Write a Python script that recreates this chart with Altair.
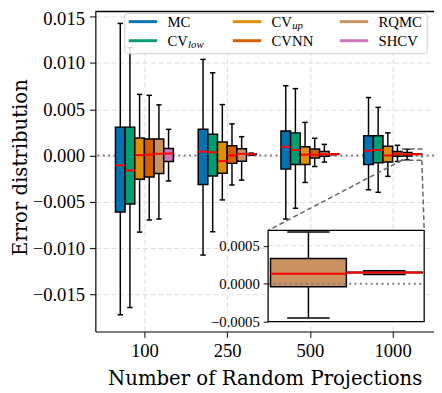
import json
import pandas as pd
import altair as alt

# ---------------- data ----------------
METHODS = ["MC", "CV_low", "CV_up", "CVNN", "RQMC", "SHCV"]
COLORS = ["#0173b2", "#029e73", "#de8f05", "#d55e00", "#ca9161", "#cc78bc"]
PROJECTIONS = ["100", "250", "500", "1000"]

# box statistics per method, one value per number of random projections
WHISKER_LOW = {
    "MC":     [-0.01716, -0.01072, -0.00684, -0.00369],
    "CV_low": [-0.01638, -0.00821, -0.00568, -0.00396],
    "CV_up":  [-0.00825, -0.00478, -0.00290, -0.00224],
    "CVNN":   [-0.00694, -0.00317, -0.00118, -0.00064],
    "RQMC":   [-0.00684, -0.00265, -0.00070, -0.00045],
    "SHCV":   [-0.00273, 0.00005, 0.00010, 0.00012],
}
Q1 = {
    "MC":     [-0.00609, -0.00311, -0.00146, -0.00095],
    "CV_low": [-0.00523, -0.00221, -0.00095, -0.00077],
    "CV_up":  [-0.00255, -0.00190, -0.00095, -0.00070],
    "CVNN":   [-0.00230, -0.00084, -0.00026, -0.00008],
    "RQMC":   [-0.00194, -0.00060, -0.00008, -0.00004],
    "SHCV":   [-0.00064, 0.00010, 0.00013, 0.000145],
}
MEDIAN = {
    "MC":     [-0.00105, 0.00043, 0.00095, 0.00053],
    "CV_low": [-0.00160, 0.00036, 0.00060, 0.00060],
    "CV_up":  [0.00005, -0.00060, 0.00010, 0.00002],
    "CVNN":   [0.00010, 0.00002, 0.00010, 0.00020],
    "RQMC":   [0.00020, 0.00019, 0.00015, 0.00013],
    "SHCV":   [0.00022, 0.00015, 0.00015, 0.000147],
}
Q3 = {
    "MC":     [0.00307, 0.00283, 0.00266, 0.00214],
    "CV_low": [0.00307, 0.00231, 0.00245, 0.00214],
    "CV_up":  [0.00190, 0.00146, 0.00095, 0.00101],
    "CVNN":   [0.00180, 0.00105, 0.00070, 0.00043],
    "RQMC":   [0.00180, 0.00074, 0.00043, 0.00033],
    "SHCV":   [0.00077, 0.00020, 0.00017, 0.00015],
}
WHISKER_HIGH = {
    "MC":     [0.01425, 0.01037, 0.00753, 0.00626],
    "CV_low": [0.01165, 0.00893, 0.00722, 0.00520],
    "CV_up":  [0.00660, 0.00550, 0.00358, 0.00245],
    "CVNN":   [0.00650, 0.00342, 0.00187, 0.00111],
    "RQMC":   [0.00547, 0.00204, 0.00121, 0.00068],
    "SHCV":   [0.00283, 0.00027, 0.00020, 0.00017],
}

# ---------------- layout ----------------
W, H = 345, 326
XDOM = [-0.593, 3.5]
YDOM = [-0.01897, 0.01553]
BOX_W = 0.7 / len(METHODS)
CAP_HALF = BOX_W * 0.28

# zoomed region (data units) and where the inset sits (pixels inside the plot)
IX = [3.113, 3.353]
IY = [-0.0005, 0.0007]
INSET_RX = [176, 335]
INSET_RY = [316, 223]

SERIF = "Liberation Serif, Tinos, 'Times New Roman', Times, serif"
TITLE_FONT = "DejaVu Serif"

rows = []
for g, proj in enumerate(PROJECTIONS):
    for m, name in enumerate(METHODS):
        pos = g + (m - (len(METHODS) - 1) / 2) * BOX_W
        rows.append(dict(
            proj=proj, g=g, method=name, pos=pos,
            x0=pos - BOX_W / 2, x1=pos + BOX_W / 2,
            c0=pos - CAP_HALF, c1=pos + CAP_HALF,
            lo=WHISKER_LOW[name][g], q1=Q1[name][g], med=MEDIAN[name][g],
            q3=Q3[name][g], hi=WHISKER_HIGH[name][g],
        ))
df = pd.DataFrame(rows)

color = alt.Color("method:N", scale=alt.Scale(domain=METHODS, range=COLORS), legend=None)

# ---------------- main panel ----------------
xs = alt.Scale(domain=XDOM, nice=False, zero=False)
ys = alt.Scale(domain=YDOM, nice=False, zero=False)

grid_kw = dict(grid=True, gridDash=[5, 3], gridColor="#dcdcdc", gridWidth=1)
x_axis = alt.Axis(
    values=list(range(len(PROJECTIONS))),
    labelExpr=json.dumps(PROJECTIONS) + "[datum.value]",
    title="Number of Random Projections",
    titleFont=TITLE_FONT, titleFontSize=20, titleFontWeight="normal", titleColor="black",
    titleY=54, titleBaseline="alphabetic",
    labelFont=SERIF, labelFontSize=19, labelColor="black", labelPadding=4,
    tickSize=6, tickColor="black", domainColor="black", domainWidth=1.2,
    labelAngle=0, **grid_kw,
)
y_axis = alt.Axis(
    values=[-0.015, -0.01, -0.005, 0.0, 0.005, 0.01, 0.015],
    format=".3f",
    title="Error distribution",
    titleFont=TITLE_FONT, titleFontSize=20, titleFontWeight="normal", titleColor="black",
    titleX=-76, titleY=158.5, titleAngle=-90, titleBaseline="middle", titleAlign="center",
    labelFont=SERIF, labelFontSize=19, labelColor="black", labelPadding=5,
    labelFlush=6, labelFlushOffset=7,
    tickSize=6, tickColor="black", domainColor="black", domainWidth=1.2, **grid_kw,
)


def MX(field, **kw):
    return alt.X(field, scale=xs, **kw)


def MY(field, **kw):
    return alt.Y(field, scale=ys, **kw)


zero_df = pd.DataFrame({"v": [0.0]})
top_df = pd.DataFrame({"v": [YDOM[1]]})

whiskers = alt.Chart(df).mark_rule(color="black", strokeWidth=1.5).encode(
    x=MX("pos:Q", axis=x_axis),
    y=MY("lo:Q", axis=y_axis),
    y2="hi:Q",
)
zero_line = alt.Chart(zero_df).mark_rule(
    color="#7f7f7f", strokeWidth=2, strokeDash=[2, 3.5]
).encode(y=MY("v:Q"))
cap_lo = alt.Chart(df).mark_rule(color="black", strokeWidth=1.5).encode(
    x=MX("c0:Q"), x2="c1:Q", y=MY("lo:Q"),
)
cap_hi = alt.Chart(df).mark_rule(color="black", strokeWidth=1.5).encode(
    x=MX("c0:Q"), x2="c1:Q", y=MY("hi:Q"),
)
boxes = alt.Chart(df).mark_rect(stroke="black", strokeWidth=1.5).encode(
    x=MX("x0:Q"), x2="x1:Q", y=MY("q1:Q"), y2="q3:Q", color=color,
)
medians = alt.Chart(df).mark_rule(color="#ff0000", strokeWidth=2).encode(
    x=MX("x0:Q"), x2="x1:Q", y=MY("med:Q"),
)

zoom_df = pd.DataFrame({"x0": [IX[0]], "x1": [IX[1]], "y0": [IY[0]], "y1": [IY[1]]})
zoom_rect = alt.Chart(zoom_df).mark_rect(
    fillOpacity=0, stroke="#666666", strokeWidth=1.5, strokeDash=[5, 3]
).encode(x=MX("x0:Q"), x2="x1:Q", y=MY("y0:Q"), y2="y1:Q")


def px_to_main_x(px):
    return XDOM[0] + px / W * (XDOM[1] - XDOM[0])


def px_to_main_y(py):
    return YDOM[1] - py / H * (YDOM[1] - YDOM[0])


conn_df = pd.DataFrame({
    "xa": [IX[0], IX[1]],
    "ya": [IY[0], IY[0]],
    "xb": [px_to_main_x(INSET_RX[0]), px_to_main_x(INSET_RX[1])],
    "yb": [px_to_main_y(INSET_RY[1]), px_to_main_y(INSET_RY[1])],
})
connectors = alt.Chart(conn_df).mark_rule(
    color="#666666", strokeWidth=1.5, strokeDash=[5, 3]
).encode(x=MX("xa:Q"), x2="xb:Q", y=MY("ya:Q"), y2="yb:Q")
top_border = alt.Chart(top_df).mark_rule(color="black", strokeWidth=1.5).encode(y=MY("v:Q"))

main = alt.layer(whiskers, zero_line, cap_lo, cap_hi, boxes, medians,
                 zoom_rect, connectors, top_border)

# ---------------- inset ----------------
ixs = alt.Scale(domain=IX, range=INSET_RX, nice=False, zero=False)
iys = alt.Scale(domain=IY, range=INSET_RY, nice=False, zero=False)
inset_axis = alt.Axis(
    orient="left", offset=-INSET_RX[0], values=[-0.0005, 0.0, 0.0005], format=".4f",
    grid=False, domain=False, title=None, tickSize=5, tickColor="black",
    labelFont=SERIF, labelFontSize=15, labelColor="black", labelPadding=4,
)


def IXE(field):
    return alt.X(field, scale=ixs, axis=None)


def IYE(field, **kw):
    return alt.Y(field, scale=iys, **kw)


ins_df = df[(df["g"] == len(PROJECTIONS) - 1) & (df["method"].isin(["RQMC", "SHCV"]))]

ins_bg = alt.Chart(zoom_df).mark_rect(fill="white").encode(
    x=IXE("x0:Q"), x2="x1:Q", y=IYE("y0:Q", axis=inset_axis), y2="y1:Q",
)
ins_grid_df = pd.DataFrame({"v": [0.0005], "x0": [IX[0]], "x1": [IX[1]]})
ins_grid = alt.Chart(ins_grid_df).mark_rule(
    color="#dcdcdc", strokeWidth=1, strokeDash=[5, 3]
).encode(x=IXE("x0:Q"), x2="x1:Q", y=IYE("v:Q"))
ins_zero_df = pd.DataFrame({"v": [0.0], "x0": [IX[0]], "x1": [IX[1]]})
ins_zero = alt.Chart(ins_zero_df).mark_rule(
    color="#7f7f7f", strokeWidth=2, strokeDash=[2, 3.5]
).encode(x=IXE("x0:Q"), x2="x1:Q", y=IYE("v:Q"))
ins_whisk = alt.Chart(ins_df).mark_rule(color="black", strokeWidth=1.5).encode(
    x=IXE("pos:Q"), y=IYE("lo:Q"), y2="hi:Q",
)
ins_cap_lo = alt.Chart(ins_df).mark_rule(color="black", strokeWidth=1.5).encode(
    x=IXE("c0:Q"), x2="c1:Q", y=IYE("lo:Q"),
)
ins_cap_hi = alt.Chart(ins_df).mark_rule(color="black", strokeWidth=1.5).encode(
    x=IXE("c0:Q"), x2="c1:Q", y=IYE("hi:Q"),
)
ins_boxes = alt.Chart(ins_df).mark_rect(stroke="black", strokeWidth=1.5).encode(
    x=IXE("x0:Q"), x2="x1:Q", y=IYE("q1:Q"), y2="q3:Q", color=color,
)
ins_med = alt.Chart(ins_df).mark_rule(color="#ff0000", strokeWidth=2).encode(
    x=IXE("x0:Q"), x2="x1:Q", y=IYE("med:Q"),
)
ins_frame = alt.Chart(zoom_df).mark_rect(fillOpacity=0, stroke="black", strokeWidth=1.3).encode(
    x=IXE("x0:Q"), x2="x1:Q", y=IYE("y0:Q"), y2="y1:Q",
)
inset = alt.layer(ins_bg, ins_grid, ins_whisk, ins_cap_lo, ins_cap_hi,
                  ins_boxes, ins_med, ins_zero, ins_frame)

# ---------------- legend (drawn as marks, 3 columns x 2 rows) ----------------
LEG_COL_X = [34, 140, 249]
LEG_ROW_Y = [10.3, 29.7]
SWATCH_LEN = 29
TEXT_GAP = 10.5
SUB_DX = 21

leg_rows = []
for i, name in enumerate(METHODS):
    col, row = i // 2, i % 2
    base, _, sub = name.partition("_")
    sx = LEG_COL_X[col]
    leg_rows.append(dict(method=name, sx0=sx, sx1=sx + SWATCH_LEN,
                         ly=LEG_ROW_Y[row], tx=sx + SWATCH_LEN + TEXT_GAP,
                         base=base, sub=sub,
                         subx=sx + SWATCH_LEN + TEXT_GAP + SUB_DX,
                         suby=LEG_ROW_Y[row] + 4))
leg_df = pd.DataFrame(leg_rows)

leg_box = alt.Chart(zoom_df).mark_rect(
    fill="white", fillOpacity=0.85, stroke="#cccccc", strokeWidth=1, cornerRadius=3
).encode(x=alt.value(30), x2=alt.value(338), y=alt.value(2), y2=alt.value(43))
leg_lines = alt.Chart(leg_df).mark_rule(strokeWidth=3).encode(
    x=alt.X("sx0:Q", scale=None, axis=None), x2="sx1:Q",
    y=alt.Y("ly:Q", scale=None, axis=None),
    color=color,
)
leg_text = alt.Chart(leg_df).mark_text(
    align="left", baseline="middle", font=SERIF, fontSize=15, color="black"
).encode(
    x=alt.X("tx:Q", scale=None, axis=None),
    y=alt.Y("ly:Q", scale=None, axis=None),
    text="base:N",
)
leg_sub = alt.Chart(leg_df[leg_df["sub"] != ""]).mark_text(
    align="left", baseline="middle", font=SERIF, fontSize=11, fontStyle="italic", color="black"
).encode(
    x=alt.X("subx:Q", scale=None, axis=None),
    y=alt.Y("suby:Q", scale=None, axis=None),
    text="sub:N",
)
legend = alt.layer(leg_box, leg_lines, leg_text, leg_sub)

chart = alt.layer(main, inset, legend).resolve_scale(
    x="independent", y="independent"
).properties(
    width=W, height=H,
    autosize=alt.AutoSizeParams(type="none"),
    padding={"left": 89, "top": 0, "right": 0, "bottom": 59},
    background="white",
).configure_view(stroke=None)

chart.save("out.html", embed_options={"renderer": "svg", "actions": False})
